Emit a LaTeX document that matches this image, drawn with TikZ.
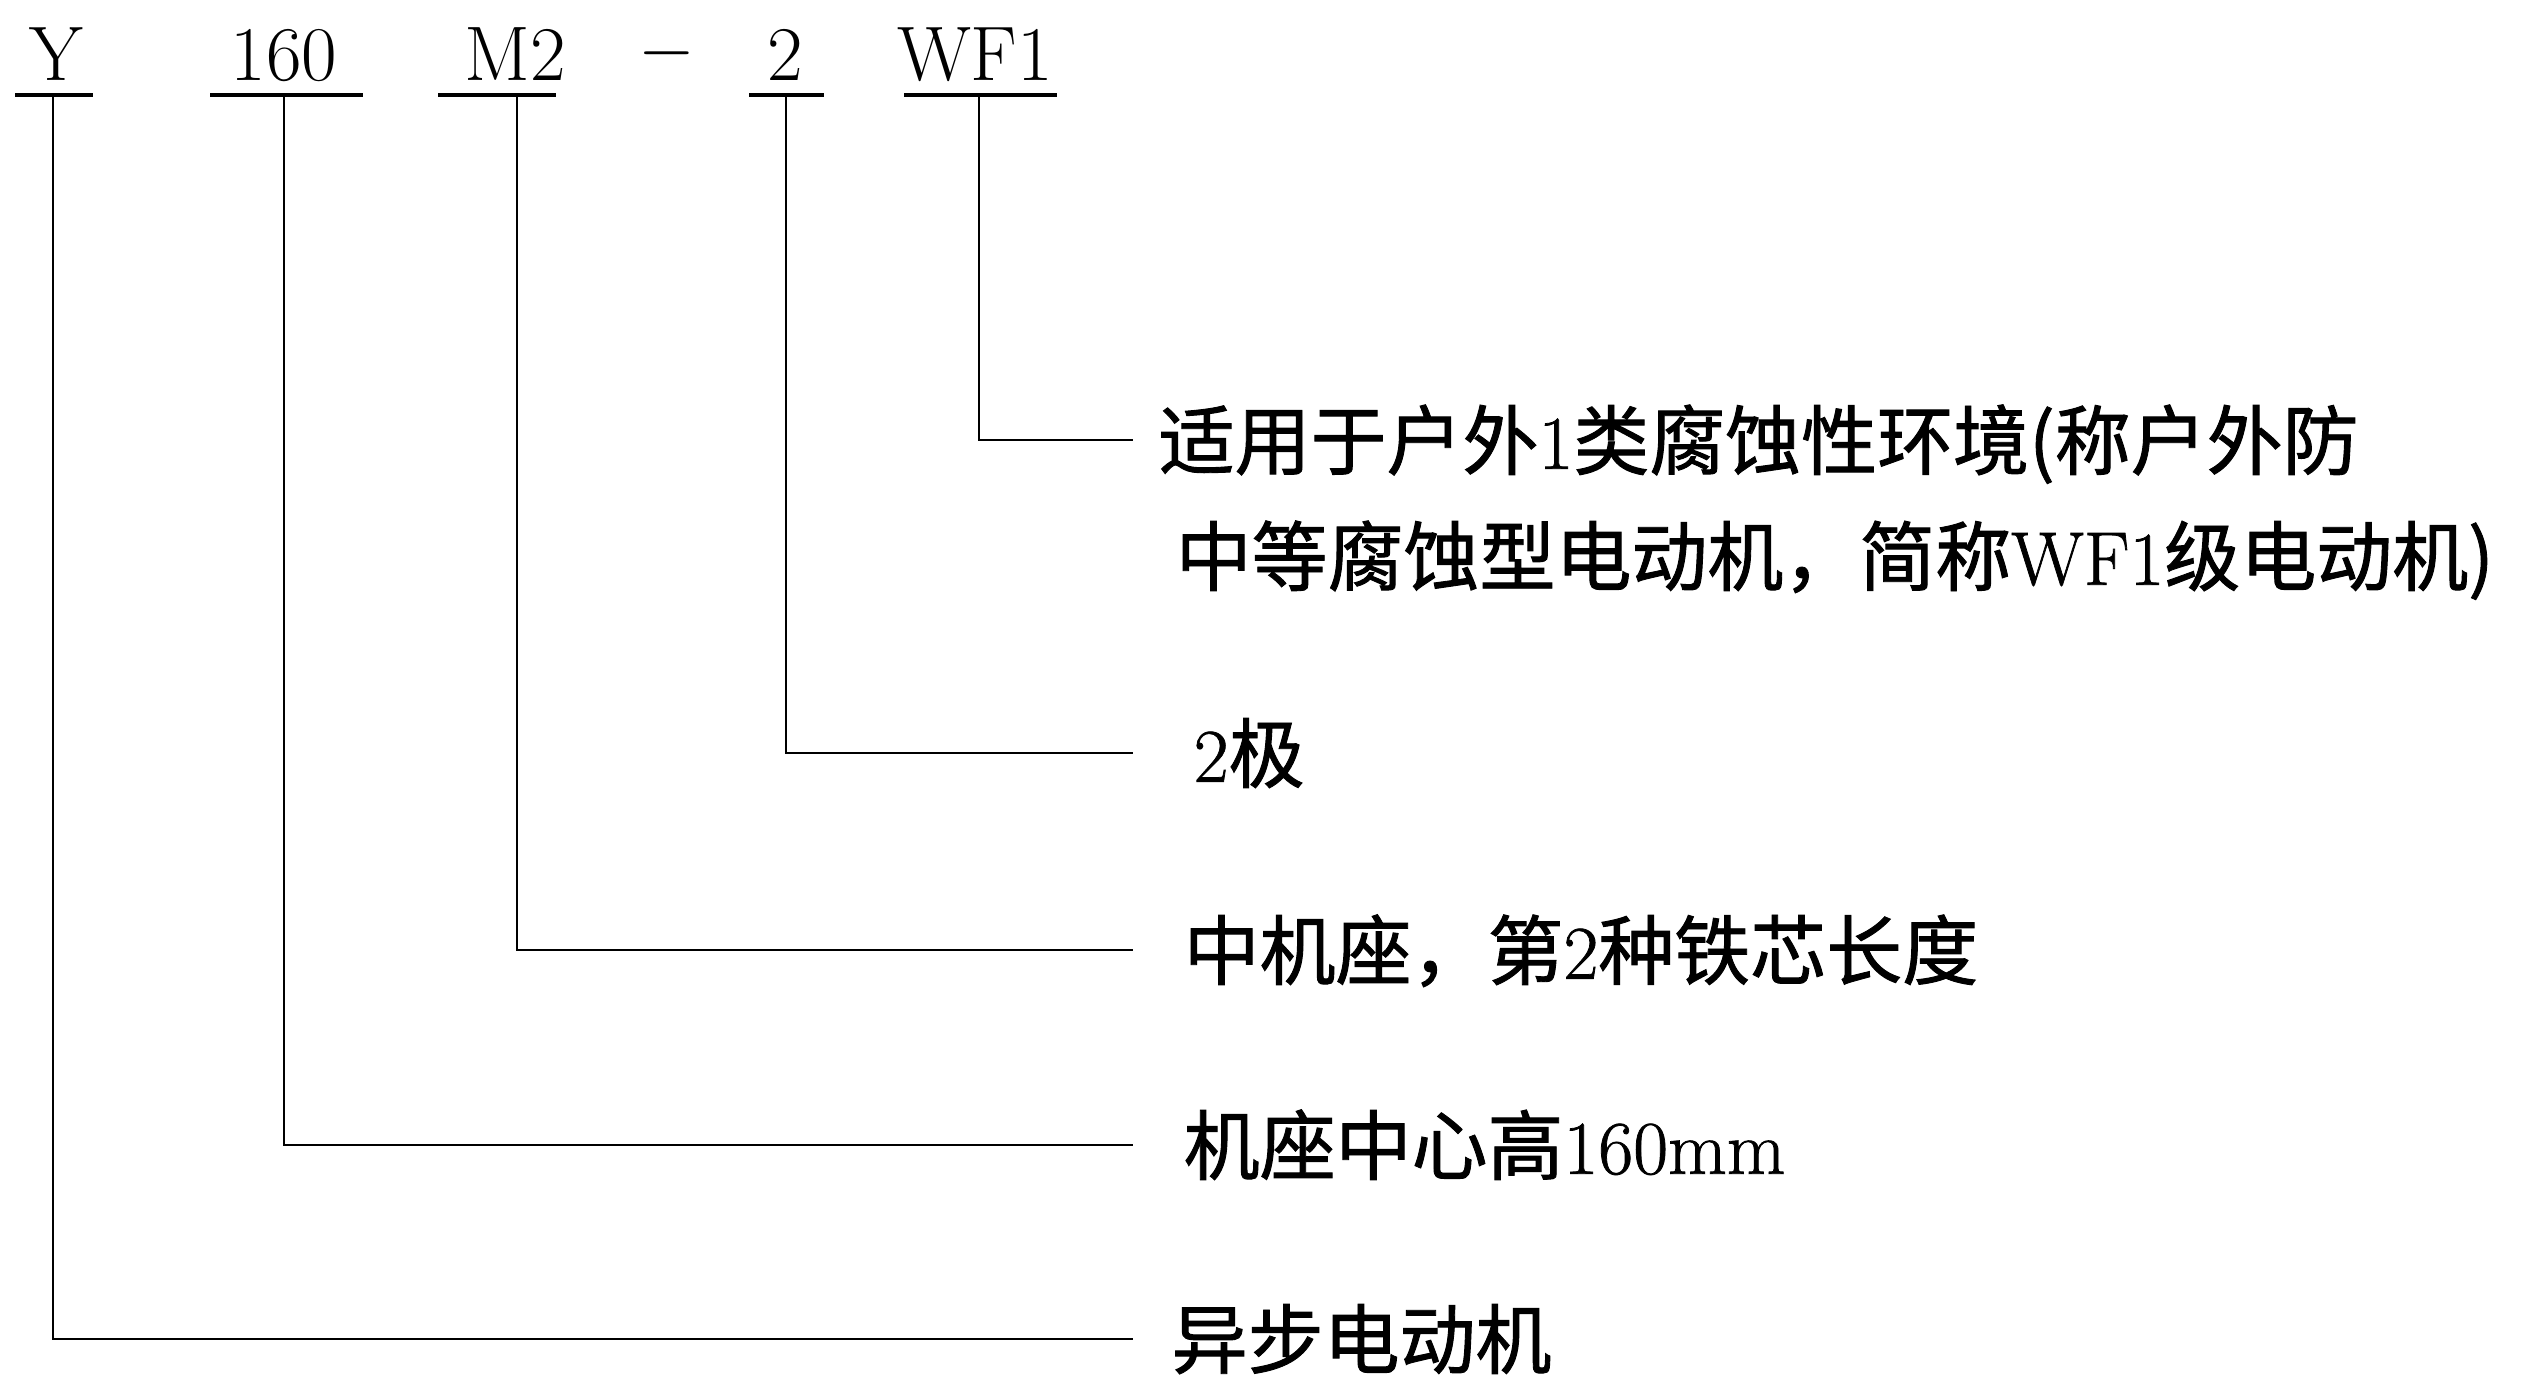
\documentclass[tikz,border=0pt]{standalone}
\usepackage{fontspec}
\newfontfamily\cjk[FakeBold=1.2]{Noto Sans CJK SC}
\newfontfamily\latn[FakeBold=1]{Latin Modern Roman}
\usetikzlibrary{positioning}

\begin{document}
\begin{tikzpicture}[x=0.01cm,y=-0.01cm]
  \tikzset{code/.style={font=\fontsize{22}{26}\selectfont, inner sep=0pt, anchor=base}}
  \tikzset{uline/.style={line width=1.2pt}}
  \tikzset{lead/.style={line width=0.8pt}}
  \tikzset{note/.style={font=\fontsize{21.6}{26}\selectfont\latn, inner sep=0pt, anchor=west,
      text height=17.9pt, text depth=1.5pt}}

  \useasboundingbox (0,0) rectangle (2541,1375);

  % model code
  \node[code] (codeY) at (56,80) {Y};
  \node[code] (codeH) at (284,80) {160};
  \node[code] (codeM) at (515,80) {M2};
  \node[code, anchor=center] (dash) at (667,53) {$-$};
  \node[code] (codeP) at (785,80) {2};
  \node[code] (codeW) at (975,80) {WF1};

  \draw[uline] (15,95) -- (93,95);
  \draw[uline] (210,95) -- (363,95);
  \draw[uline] (438,95) -- (556,95);
  \draw[uline] (749,95) -- (824,95);
  \draw[uline] (904,95) -- (1057,95);

  \coordinate (tY) at (53,95);
  \coordinate (tH) at (284,95);
  \coordinate (tM) at (517,95);
  \coordinate (tP) at (786,95);
  \coordinate (tW) at (979,95);

  \coordinate (eW) at (1133,440);
  \coordinate (eP) at (1133,753);
  \coordinate (eM) at (1133,950);
  \coordinate (eH) at (1133,1145);
  \coordinate (eY) at (1133,1339);

  % meanings
  \node[note] (labW) at (1158,440) {{\cjk 适用于户外}1{\cjk 类腐蚀性环境(称户外防}};
  \node[note] (labWb) at (1175,556) {{\cjk 中等腐蚀型电动机，简称}WF1{\cjk 级电动机)}};
  \node[note] (labP) at (1193,753) {2{\cjk 极}};
  \node[note] (labM) at (1183,950) {{\cjk 中机座，第}2{\cjk 种铁芯长度}};
  \node[note] (labH) at (1183,1145) {{\cjk 机座中心高}160mm};
  \node[note] (labY) at (1171,1339) {{\cjk 异步电动机}};

  \draw[lead] (tW) |- (eW);
  \draw[lead] (tP) |- (eP);
  \draw[lead] (tM) |- (eM);
  \draw[lead] (tH) |- (eH);
  \draw[lead] (tY) |- (eY);
\end{tikzpicture}
\end{document}
